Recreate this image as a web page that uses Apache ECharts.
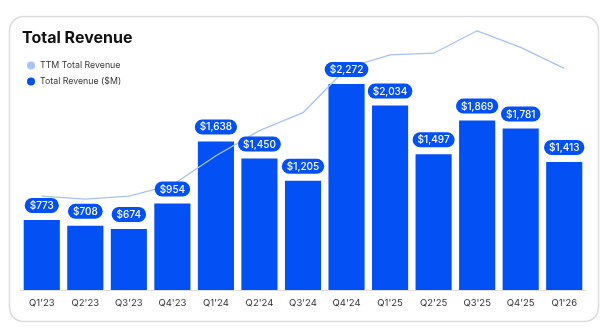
<!DOCTYPE html>
<html>
<head>
<meta charset="utf-8">
<script src="https://cdn.jsdelivr.net/npm/echarts@6/dist/echarts.min.js"></script>
<style>
  html, body { margin: 0; padding: 0; background: #fff; }
  #chart { width: 607px; height: 335px; }
</style>
</head>
<body>
<div id="chart"></div>
<script>
// quarters and values ($M)
const quarters = ["Q1'23", "Q2'23", "Q3'23", "Q4'23", "Q1'24", "Q2'24", "Q3'24", "Q4'24", "Q1'25", "Q2'25", "Q3'25", "Q4'25", "Q1'26"];
const revenue = [773, 708, 674, 954, 1638, 1450, 1205, 2272, 2034, 1497, 1869, 1781, 1413];
const ttmRevenue = [2780, 2690, 2780, 3109, 3974, 4716, 5247, 6565, 6961, 7008, 7672, 7181, 6560];

const barBlue = '#0350F5';
const lineBlue = '#A8C1F7';

const chart = echarts.init(document.getElementById('chart'));
chart.setOption({
    animation: false,
    textStyle: { fontFamily: 'Inter, "Noto Sans", sans-serif' },
    graphic: [
        {
            type: 'rect',
            z: -10,
            shape: { x: 9.5, y: 16.5, width: 589, height: 305, r: 14 },
            style: { fill: '#fff', stroke: '#dcdcdc', lineWidth: 1.5 }
        }
    ],
    title: {
        text: 'Total Revenue',
        left: 17,
        top: 25,
        textStyle: { fontSize: 16, fontWeight: 'bold', color: '#111' }
    },
    legend: {
        orient: 'vertical',
        left: 22,
        top: 56,
        itemGap: 7,
        itemWidth: 8,
        itemHeight: 8,
        icon: 'circle',
        textStyle: { fontSize: 8.8, color: '#3a3a3a' },
        data: [
            { name: 'TTM Total Revenue', itemStyle: { color: lineBlue } },
            { name: 'Total Revenue ($M)', itemStyle: { color: barBlue } }
        ]
    },
    grid: { left: 20, right: 21, top: 18, bottom: 45 },
    xAxis: {
        type: 'category',
        data: quarters,
        axisLine: { lineStyle: { color: '#dedede' } },
        axisTick: { show: false },
        axisLabel: { fontSize: 9.5, color: '#333', margin: 8 }
    },
    yAxis: [
        { type: 'value', min: 0, max: 3000, show: false },
        { type: 'value', min: 0, max: 8050, show: false }
    ],
    series: [
        {
            name: 'Total Revenue ($M)',
            type: 'bar',
            data: revenue,
            barCategoryGap: '17%',
            itemStyle: { color: barBlue },
            z: 1
        },
        {
            name: 'TTM Total Revenue',
            type: 'line',
            yAxisIndex: 1,
            data: ttmRevenue,
            showSymbol: false,
            symbol: 'none',
            lineStyle: { color: lineBlue, width: 1.3 },
            itemStyle: { color: lineBlue },
            z: 2
        },
        {
            // value pills, drawn above the TTM line
            name: 'labels',
            type: 'bar',
            data: revenue,
            barCategoryGap: '17%',
            barGap: '-100%',
            itemStyle: { color: 'transparent' },
            silent: true,
            z: 3,
            label: {
                show: true,
                position: 'top',
                distance: 7,
                formatter: p => '$' + p.value.toLocaleString('en-US'),
                color: '#fff',
                fontSize: 10,
                fontWeight: 500,
                backgroundColor: barBlue,
                borderRadius: 8,
                padding: [3, 5, 2, 5]
            }
        }
    ]
});
</script>
</body>
</html>
